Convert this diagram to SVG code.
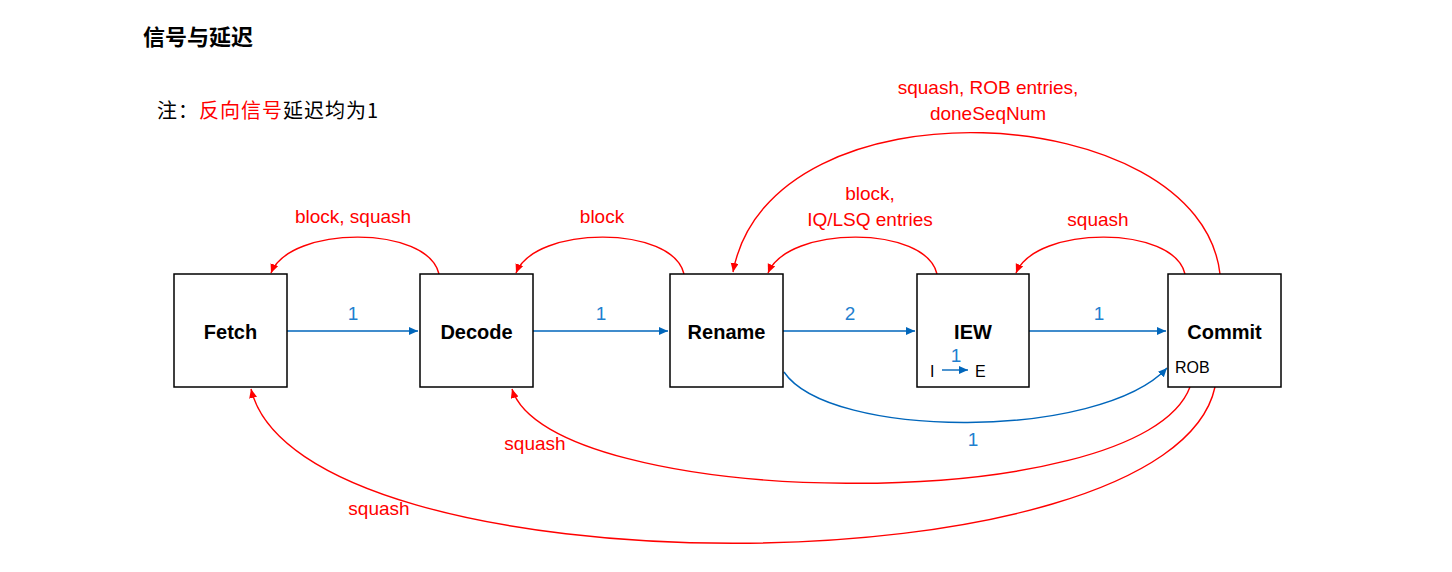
<svg xmlns="http://www.w3.org/2000/svg" width="1452" height="572" viewBox="0 0 1452 572">
<style>
.box{fill:#fff;stroke:#000;stroke-width:1.5}
.nl{font-family:"Liberation Sans","Noto Sans CJK SC",sans-serif;font-weight:bold;font-size:20px;fill:#000;text-anchor:middle}
.red{font-family:"Liberation Sans","Noto Sans CJK SC",sans-serif;font-size:19px;fill:#FF0000;text-anchor:middle}
.blu{font-family:"Liberation Sans","Noto Sans CJK SC",sans-serif;font-size:19px;fill:#1F7FCF;text-anchor:middle}
.sm{font-family:"Liberation Sans","Noto Sans CJK SC",sans-serif;font-size:16px;fill:#000}
.rl{fill:none;stroke:#FF0000;stroke-width:1.4}
.bl{fill:none;stroke:#0066BB;stroke-width:1.4}
</style>
<defs>
<marker id="ar" markerUnits="userSpaceOnUse" markerWidth="12" markerHeight="12" refX="9" refY="4" orient="auto"><path d="M0,0 L9,4 L0,8 z" fill="#FF0000"/></marker>
<marker id="ab" markerUnits="userSpaceOnUse" markerWidth="12" markerHeight="12" refX="9" refY="4" orient="auto"><path d="M0,0 L9,4 L0,8 z" fill="#0066BB"/></marker>
</defs>
<rect width="1452" height="572" fill="#fff"/>
<text x="143" y="45" font-family="'Noto Sans CJK SC',sans-serif" font-weight="bold" font-size="22" fill="#000">信号与延迟</text>
<text x="157" y="118" font-family="'Noto Sans CJK SC',sans-serif" font-size="20" letter-spacing="1" fill="#000">注：<tspan fill="#FF0000">反向信号</tspan>延迟均为1</text>

<g id="connectors">
<path class="bl" d="M287,331 L418,331" marker-end="url(#ab)"/>
<path class="bl" d="M533,331 L668,331" marker-end="url(#ab)"/>
<path class="bl" d="M783,331 L915,331" marker-end="url(#ab)"/>
<path class="bl" d="M1029,331 L1166,331" marker-end="url(#ab)"/>
<path class="bl" d="M784,372 C830,440 1100,440 1167,368" marker-end="url(#ab)"/>
<path class="rl" d="M439,274 C428,225 290,225 271,273" marker-end="url(#ar)"/>
<path class="rl" d="M684,274 C673,225 535,225 516,273" marker-end="url(#ar)"/>
<path class="rl" d="M937,274 C926,225 788,225 768,273" marker-end="url(#ar)"/>
<path class="rl" d="M1185,274 C1174,225 1036,225 1016,273" marker-end="url(#ar)"/>
<path class="rl" d="M1220,274 C1200,98 770,74 733,272" marker-end="url(#ar)"/>
<path class="rl" d="M1190,387 C1140,520 550,510 512,389" marker-end="url(#ar)"/>
<path class="rl" d="M1215,387 C1170,595 300,595 251,389" marker-end="url(#ar)"/>
<text class="blu" x="353" y="320">1</text>
<text class="blu" x="601" y="320">1</text>
<text class="blu" x="850" y="320">2</text>
<text class="blu" x="1099" y="320">1</text>
<text class="blu" x="973" y="446">1</text>
<text class="red" x="353" y="223">block, squash</text>
<text class="red" x="602" y="223">block</text>
<text class="red" x="870" y="200">block,</text>
<text class="red" x="870" y="226">IQ/LSQ entries</text>
<text class="red" x="1098" y="226">squash</text>
<text class="red" x="988" y="94">squash, ROB entries,</text>
<text class="red" x="988" y="120">doneSeqNum</text>
<text class="red" x="535" y="450">squash</text>
<text class="red" x="379" y="515">squash</text>
</g>

<g id="fetch"><rect class="box" x="174" y="274" width="113" height="113"/><text class="nl" x="230.5" y="339">Fetch</text></g>
<g id="decode"><rect class="box" x="420" y="274" width="113" height="113"/><text class="nl" x="476.5" y="339">Decode</text></g>
<g id="rename"><rect class="box" x="670" y="274" width="113" height="113"/><text class="nl" x="726.5" y="339">Rename</text></g>
<g id="iew"><rect class="box" x="917" y="274" width="112" height="113"/><text class="nl" x="973" y="339">IEW</text>
<text class="sm" x="930" y="377">I</text>
<path class="bl" d="M942,370 L968,370" marker-end="url(#ab)"/>
<text class="blu" x="956" y="362">1</text>
<text class="sm" x="975" y="377">E</text></g>
<g id="commit"><rect class="box" x="1168" y="274" width="113" height="113"/><text class="nl" x="1224.5" y="339">Commit</text>
<text class="sm" x="1175" y="373">ROB</text></g>
</svg>
